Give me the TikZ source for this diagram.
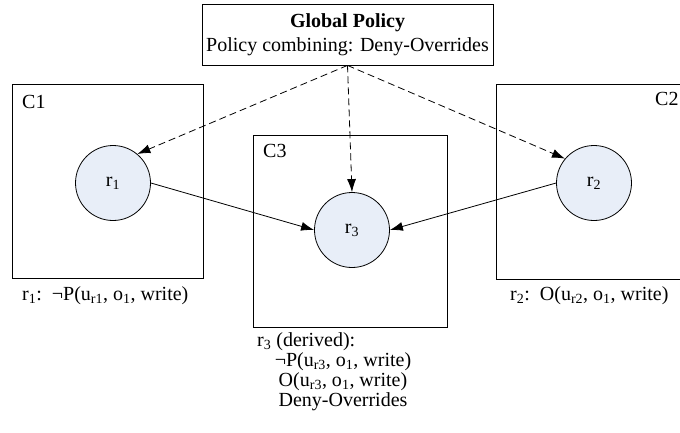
\documentclass[tikz,border=0pt]{standalone}
\usepackage{fontspec}
\setmainfont{Liberation Serif}
\usetikzlibrary{
  arrows.meta,%
  positioning
}
\definecolor{rulefill}{RGB}{232,238,248}
\tikzset{>={Latex[length=13pt,width=9pt]}}
\tikzset{font=\fontsize{20}{24}\selectfont}
\tikzset{
  container/.style={draw, line width=0.8pt, inner sep=0pt, anchor=north west},
  ctag/.style={inner sep=0pt, anchor=north west},
  rule/.style={circle, draw, line width=0.8pt, fill=rulefill,
    minimum size=75pt, inner sep=0pt},
  policy/.style={->, line width=0.8pt, dash pattern=on 7pt off 4pt},
  derive/.style={->, line width=0.8pt}
}

\begin{document}
\begin{tikzpicture}[x=1pt, y=-1pt]
    \useasboundingbox (0,0) rectangle (680,432);
    % global policy
    \node[draw, line width=0.8pt, minimum width=291pt, minimum height=61pt,
      align=center, inner sep=0pt] (glob) at (347.5,34.5)
      {\textbf{Global Policy}\\Policy combining: Deny-Overrides};
    % containers
    \node[container, minimum width=191pt, minimum height=194pt] (c1) at (12,84) {};
    \node[container, minimum width=194pt, minimum height=195pt] (c2) at (496,84) {};
    \node[container, minimum width=194pt, minimum height=192pt] (c3) at (253,135) {};
    \node[ctag] (t1) at (22,95) {C1};
    \node[ctag] (t2) at (655,92) {C2};
    \node[ctag] (t3) at (263,144) {C3};
    % rules
    \node[rule] (r1) at (113,183) {r\textsubscript{1}};
    \node[rule] (r2) at (594,183) {r\textsubscript{2}};
    \node[rule] (r3) at (352,230) {r\textsubscript{3}};
    \draw[policy] (glob.south) -- (r1.50);
    \draw[policy] (glob.south) -- (r2.140);
    \draw[policy] (glob.south) -- (r3.north);
    \draw[derive] (r1.east) -- (r3.west);
    \draw[derive] (r2.west) -- (r3.east);
    % rule texts
    \node[inner sep=0pt, anchor=west] (l1) at (22,296)
      {r\textsubscript{1}:\ \ ¬P(u\textsubscript{r1}, o\textsubscript{1}, write)};
    \node[inner sep=0pt, anchor=west] (l2) at (510,296)
      {r\textsubscript{2}:\ \ O(u\textsubscript{r2}, o\textsubscript{1}, write)};
    \node[inner sep=0pt, anchor=west] (l3) at (257,342)
      {r\textsubscript{3} (derived):};
    \node[inner sep=0pt, align=center, font=\fontsize{20}{20}\selectfont] (l3b) at (343,382)
      {¬P(u\textsubscript{r3}, o\textsubscript{1}, write)\\
       O(u\textsubscript{r3}, o\textsubscript{1}, write)\\
       Deny-Overrides};
\end{tikzpicture}
\end{document}
